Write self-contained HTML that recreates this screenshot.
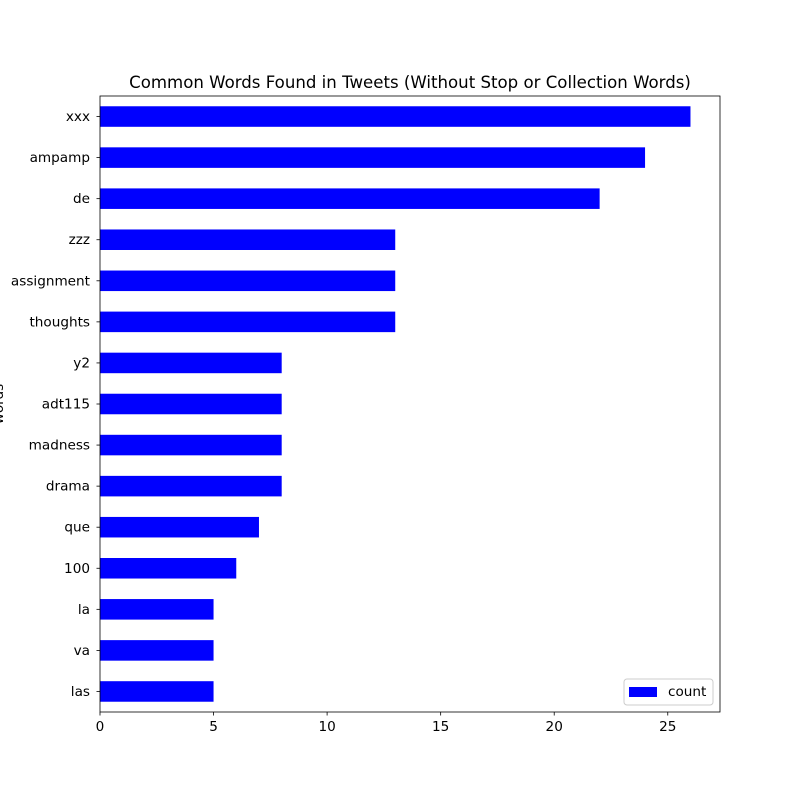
<!DOCTYPE html>
<html><head><meta charset="utf-8"><style>body{margin:0;background:#fff}svg{display:block;font-family:"DejaVu Sans","Liberation Sans",sans-serif}</style></head>
<body>
<svg id="chart" width="800" height="800"></svg>
<script>
const categories=["xxx","ampamp","de","zzz","assignment","thoughts","y2","adt115","madness","drama","que","100","la","va","las"];
const counts=[26,24,22,13,13,13,8,8,8,8,7,6,5,5,5];
const xTicks=[0,5,10,15,20,25];
const L=100,R=720,T=96,B=712,xmax=27.3;
const ns="http://www.w3.org/2000/svg";
const svg=document.getElementById('chart');
function x(v){return L+v/xmax*(R-L);}
const step=(B-T)/categories.length;
function y(i){return T+step*(i+0.5);}
function mk(tag,attrs,text){const e=document.createElementNS(ns,tag);for(const k in attrs)e.setAttribute(k,attrs[k]);if(text!==undefined)e.textContent=text;svg.appendChild(e);return e;}
categories.forEach((c,i)=>{
  const b=mk('rect',{x:x(0),y:y(i)-step/4,width:x(counts[i])-x(0),height:step/2,fill:'#0000ff'});
  
  
  const tk=mk('line',{x1:L-3.5,x2:L,y1:y(i),y2:y(i),stroke:'#000','stroke-width':0.8});
  
  
  const t=mk('text',{x:L-10,y:y(i)+4.5,'text-anchor':'end','font-size':13.6},c);
  
  
});
xTicks.forEach(v=>{
  const tk=mk('line',{x1:x(v),x2:x(v),y1:B,y2:B+3.5,stroke:'#000','stroke-width':0.8});
  
  
  const t=mk('text',{x:x(v),y:B+19,'text-anchor':'middle','font-size':13.6},String(v));
  
  
});
const ax=mk('rect',{x:L,y:T,width:R-L,height:B-T,fill:'none',stroke:'#000','stroke-width':0.8});


const ti=mk('text',{x:(L+R)/2,y:88,'text-anchor':'middle','font-size':16.6},'Common Words Found in Tweets (Without Stop or Collection Words)');


const yl=mk('text',{x:0,y:0,'text-anchor':'middle','font-size':13.6,transform:'translate(3,404) rotate(-90)'},'words');


const lb=mk('rect',{x:624,y:679,width:89,height:26,rx:3,fill:'#fff',stroke:'#ccc','stroke-width':1});


const ls=mk('rect',{x:629,y:687,width:28,height:10,fill:'#0000ff'});


const lt=mk('text',{x:668,y:696,'font-size':13.6},'count');


</script>
</body></html>
